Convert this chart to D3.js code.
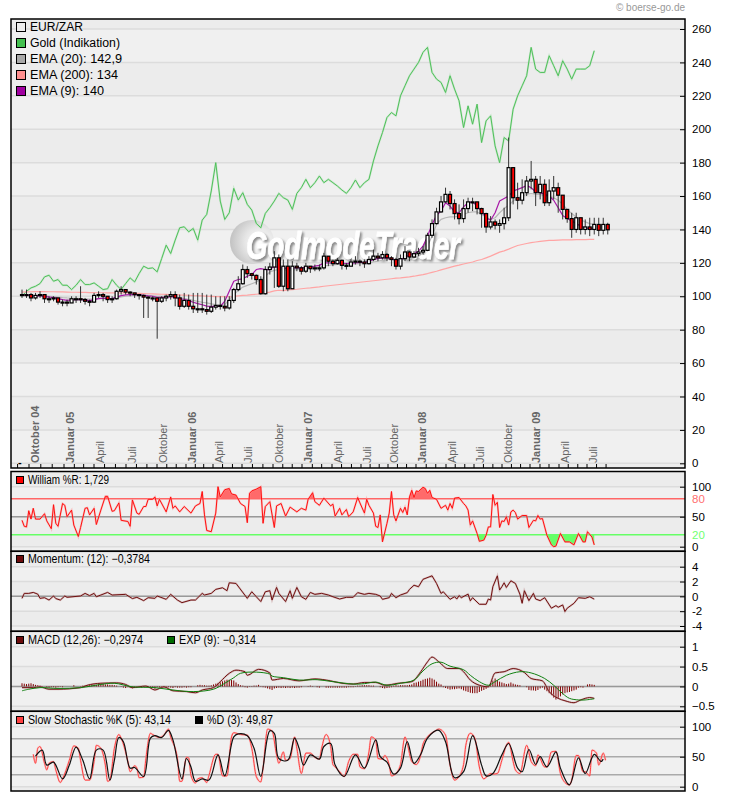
<!DOCTYPE html>
<html>
<head>
<meta charset="utf-8">
<script src="https://cdnjs.cloudflare.com/ajax/libs/d3/7.8.5/d3.min.js"></script>
<style>
  html, body { margin: 0; padding: 0; background: #fff; }
  svg { display: block; font-family: "Liberation Sans", Arial, sans-serif; }
</style>
</head>
<body>
<svg id="chart" width="730" height="801"></svg>
<script>
// --- data ---
// main panel series are sampled every second week, first value = week 0
const candleClose = [101,101,99,100.5,101,98.5,98.5,99,96.5,96.5,96,98.5,98.5,98,97,96.5,100.5,101,100,98,98.5,103,104,102.5,102,101,100.5,99.5,99,99,97,99,100,101,99,94,97.5,94,92.5,92.5,92,91,93.5,94.5,94,93,97.5,104,107.5,116,113.5,112.5,110,101.5,116,117.5,123,106,118,104.5,118,117,115,118,116.5,117,117,124,121,119.5,121.5,118.5,118,120.5,121,120.5,119.5,122,124,123,125,123,122,118,122.5,126.5,123.5,125.5,126.5,127.5,136.5,143.5,150.5,156.5,161,155.5,149.5,146.5,152.5,156.5,156.5,152.5,149.5,141.5,144.5,142.5,143.5,147,177,159,157.5,162,169,170,162,167,156,163,165,160.5,152,146.5,140,147,140,141.5,140,143,139.5,143,139.8];
const candleHigh = [104,104,102,102,103,101,100,100,99,98,98,100,100,106,99,98,102,103,102,100,100,104,106,104,103,102,101,101,100,100,99,100,101,103,103,101,102,101,102,102,102,101,101,100,100,100,100,105,112,119,118,114,113,112,118,120,127,125,122,122,121,120,118,120,118,119,119,126,124,122,123,122,120,122,124,122,122,124,128,126,127,126,124,123,125,130,127,127,129,130,138,146,153,160,165,163,158,155,158,159,159,156,153,150,148,146,146,153,195,177,168,170,172,181,172,172,170,170,172,168,157,150,150,150,146,146,147,147,147,147,144];
const candleLow = [99,99,97,98,99,96,96,97,95,94,94,96,96,96,95,94,96,99,97,96,96,98,101,101,100,99,98,87,87,97,74.6,96,97,98,94,92,93,92,90,90,90,89,90,92,92,91,92,96,103,107,111,110,107,101,101,113,105,105,103,103,116,115,113,114,114,115,115,116,118,118,119,116,116,118,119,118,117,119,121,121,122,121,118,116,116,121,121,123,124,125,127,135,143,150,156,152,146,143,144,150,151,149,141,138,140,140,138,140,145,155,152,155,160,164,154,158,154,154,158,150,146,144,135,138,137,137,136,137,136,137,137];
const goldValues = [100,103,105,106,107.6,111.6,112.6,109,110,106.6,106.6,104,106.6,110,107,107,108,106,104,104.5,110,106.6,104,107.6,111,108.6,113.6,118,116.6,117,114.6,122.6,130.6,125.6,133.6,141,141.6,138.6,140.6,133.6,145.6,149,163,180,157,146,150,164.6,157.6,162,155,151.6,143.6,141,149.6,153,157,161.6,159,157.6,152,161.6,165,170,165,168,172,168,170,168,166,163.6,161.6,165,169.6,165,168,170,181,190,198,207,210,208,220,226,232,236,240,246,249,234,230,228,222,232,224,217,201,214,203,215,192,205,208,190,180,195,193,212,220,226,232,249,236,234,234,244,238,232,241,236,230,236,236,236,238,247];
const ema20Values = [100.5,100.5,100.4,100.4,100.4,100.2,100,99.8,99.5,99.2,99,98.9,98.8,98.7,98.5,98.3,98.4,98.6,98.7,98.6,98.6,99,99.6,100,100.3,100.5,100.6,100.6,100.5,100.3,100,99.9,99.8,99.8,99.7,99.2,98.8,98,97.5,96.9,96.4,96,95.4,95,94.8,95,98,101,103.5,105.5,106.5,107.5,108.5,110,112,114.5,115.5,116,116,115.5,115.8,116,116.3,116.5,116.8,117,117.5,118,118.5,118.7,119,119,119,119.2,119.4,119.5,119.6,120,120.5,121,121.5,122,122,121.7,121.7,122,122.5,123,124,126,130,136,143,146,147,147.5,147.5,148,149,150,150.5,150.5,149,147.5,146,147,150,152.5,154.5,157,159,160,161,161.5,161,161,160,160,159,157.5,155,152,149.5,147.5,146,144.5,143.5,143];
const ema200Values = [102.5,102.6,102.7,102.8,102.8,102.8,102.7,102.7,102.6,102.6,102.5,102.4,102.4,102.3,102.3,102.2,102.2,102.1,102.1,102,102,102,102,102,102,101.8,101.7,101.6,101.5,101.4,101.3,101.2,101.1,101,101,100.8,100.7,100.6,100.4,100.3,100.2,100,99.9,99.8,99.8,99.7,99.8,99.9,100.2,100.5,100.7,101,101.2,101.5,102,102.5,103.2,103.6,103.4,103.8,104,104.2,104.5,104.8,105,105.3,105.6,106,106.3,106.6,106.9,107.2,107.5,107.8,108.1,108.4,108.7,109,109.3,109.6,109.9,110.2,110.5,110.8,111,111.3,111.6,112,112.5,113,113.6,114.3,115,115.8,116.5,117.3,118,118.6,119.3,119.9,120.5,121.4,122,123,124,125.2,126.4,127.2,128.2,129.3,130.4,131,131.6,132.1,132.5,132.9,133.2,133.4,133.5,133.6,133.7,133.8,133.8,133.9,133.9,133.9,134,134];
const ema9Values = [100.8,100.8,100.3,100.2,100.4,99.9,99.5,99.3,98.6,98,97.5,97.8,98,98,97.8,97.4,98,98.6,98.9,98.7,98.6,99.5,100.4,100.8,101,101,100.9,100.6,100.2,100,99.4,99.3,99.4,99.7,99.5,98.4,98.2,97.4,96.4,95.6,94.9,94.1,94,94,94,97,103,109,110,110.5,112,113,116,116.5,116,116,118,117,117,116.5,117,117,117,117.3,117.3,118,118.5,120,120,119.8,120,119.8,119.6,119.8,120,120.2,120.2,121,122,122.5,123,123,122.5,121.5,122,123,125,125.5,127,130,136,143,148.5,151,156,154,150.5,150,153.5,156,156.5,154,151,147,145.5,150,157,158.5,160,163,164,165,166.4,165,162.4,162,161,160,157.5,153,148.4,146.5,145,143.5,142,141,140.5,140];

// indicator panels: [week, value]
const williamPoints = [[0,44],[1,34],[2,33],[3,60],[4,46],[5,64],[6,46],[8,46],[10,55],[11,43],[13,30],[14,70],[15,39],[16,34],[18,72],[19,69],[20,50],[22,61],[23,36],[25,17],[26,32],[28,64],[29,65],[30,53],[32,64],[33,37],[35,61],[37,84],[38,84],[40,59],[41,60],[43,73],[44,44],[47,42],[48,34],[49,78],[51,56],[52,54],[54,67],[55,67],[56,79],[58,79],[59,83],[60,68],[61,79],[64,58],[66,83],[67,64],[68,68],[70,58],[72,67],[75,56],[77,68],[79,72],[80,92],[81,53],[82,27],[84,25],[86,56],[87,100],[88,83],[90,95],[92,97],[93,88],[95,86],[97,72],[99,67],[100,40],[101,89],[102,93],[104,96],[106,100],[107,39],[108,67],[110,75],[112,32],[113,68],[115,72],[117,51],[119,66],[122,58],[124,64],[126,61],[127,79],[129,90],[130,75],[132,69],[134,81],[137,68],[138,71],[139,51],[141,64],[142,53],[144,62],[145,50],[147,58],[149,82],[150,73],[152,56],[153,79],[154,69],[156,56],[157,34],[158,32],[159,53],[160,8],[162,39],[163,56],[164,92],[165,53],[166,43],[168,64],[169,57],[170,66],[171,53],[172,83],[173,94],[174,82],[175,93],[176,92],[178,99],[179,97],[180,89],[181,94],[182,82],[184,79],[186,64],[188,69],[189,61],[190,72],[191,64],[192,81],[194,82],[196,72],[197,68],[198,61],[199,36],[200,43],[202,22],[203,9],[205,11],[206,19],[207,33],[208,33],[209,87],[210,69],[211,74],[212,32],[213,43],[214,42],[215,50],[216,36],[217,58],[218,61],[219,57],[220,46],[222,52],[224,52],[225,32],[227,44],[228,43],[229,52],[230,46],[231,47],[233,19],[235,3],[236,0],[237,1],[239,22],[241,8],[243,8],[245,3],[247,22],[249,8],[250,8],[251,25],[253,16],[254,3]];
const momentumPoints = [[0,-0.27],[1,0.4],[3,0.4],[5,0.53],[7,0.3],[8,-0.27],[10,-0.18],[12,-0.5],[14,0.05],[15,-0.3],[17,-0.5],[19,0.05],[20,-0.13],[26,0.05],[28,0.4],[30,0.1],[32,0.4],[33,-0.05],[35,0.18],[38,0.53],[40,0.18],[46,0.27],[49,-0.3],[51,-0.13],[54,-0.58],[56,-0.18],[59,-0.27],[60,0.05],[64,-0.4],[66,0.27],[69,-0.5],[71,-0.85],[75,-0.5],[77,-0.5],[80,0.4],[81,0.18],[84,0.4],[86,0.94],[89,1.16],[91,0.76],[92,1.83],[95,1.74],[100,-0.27],[102,0.62],[104,-0.05],[106,-0.7],[108,0.62],[110,0.76],[111,-0.5],[113,1.2],[114,0.4],[117,-0.7],[119,0.76],[120,-0.27],[122,1.2],[124,-0.05],[126,-0.4],[128,0.53],[130,0.27],[133,0.4],[136,0.18],[138,-0.05],[141,-0.36],[144,-0.13],[147,-0.13],[149,0.5],[152,0.27],[154,0.4],[157,0.27],[159,0.05],[160,-0.4],[163,-0.18],[164,0.4],[166,-0.18],[168,0.18],[171,0.5],[172,0.94],[174,1.5],[176,1.3],[178,2.3],[182,2.77],[184,1.74],[186,0.4],[187,0.62],[190,-0.4],[192,-0.05],[193,-0.36],[194,0.1],[195,-0.18],[198,0.3],[199,-0.6],[200,-0.18],[203,-1.07],[206,-1.07],[207,-0.36],[208,-0.5],[209,1.3],[211,2.77],[212,0.85],[213,1.3],[214,1.83],[215,1.2],[217,2.1],[219,1.74],[221,0.3],[222,-0.94],[223,0.76],[225,-0.58],[227,0.4],[228,-0.36],[230,-0.58],[232,-0.18],[235,-1.6],[237,-1.25],[238,-1.47],[240,-1.16],[241,-2.05],[242,-1.6],[245,-0.94],[247,-0.18],[250,-0.27],[252,-0.05],[254,-0.38]];
const macdPoints = [[0,-0.03],[5,-0.03],[8,-0.01],[12,-0.07],[16,-0.07],[26,-0.03],[29,0.03],[35,0.08],[42,0.09],[46,0.05],[49,-0.03],[55,0.01],[59,-0.09],[63,-0.01],[67,-0.11],[73,-0.13],[77,-0.16],[80,-0.09],[85,-0.03],[88,0.12],[92,0.33],[95,0.41],[99,0.37],[100,0.28],[105,0.43],[110,0.34],[111,0.16],[116,0.2],[123,0.14],[130,0.19],[137,0.14],[142,0.08],[147,0.06],[152,0.1],[157,0.1],[161,0.03],[167,0.08],[173,0.12],[177,0.37],[180,0.62],[182,0.74],[185,0.62],[189,0.45],[194,0.45],[196,0.37],[199,0.16],[203,0.03],[207,-0.01],[210,0.34],[214,0.37],[218,0.45],[223,0.35],[226,0.2],[231,0.14],[234,-0.13],[238,-0.3],[241,-0.36],[245,-0.41],[248,-0.34],[252,-0.28],[254,-0.3]];
const expPoints = [[0,-0.11],[3,-0.07],[8,-0.03],[16,-0.05],[26,-0.03],[35,0.05],[41,0.08],[49,-0.01],[59,-0.03],[67,-0.09],[76,-0.13],[85,-0.07],[90,0.08],[94,0.22],[97,0.33],[104,0.36],[110,0.31],[111,0.26],[116,0.22],[123,0.16],[131,0.17],[138,0.12],[147,0.06],[152,0.07],[157,0.11],[162,0.03],[168,0.08],[174,0.16],[178,0.39],[182,0.57],[186,0.61],[190,0.51],[196,0.42],[199,0.28],[203,0.12],[207,0.03],[210,0.12],[215,0.28],[221,0.37],[226,0.34],[232,0.2],[236,0.03],[240,-0.18],[243,-0.3],[247,-0.34],[250,-0.34],[254,-0.31]];
// one bar per week
const macdHistogram = [0.08,0.07,0.06,0.07,0.08,0.06,0.04,0.03,0.02,0.01,0,
  -0.02,-0.03,-0.02,-0.02,-0.03,-0.02,-0.01,-0.02,0,0,0,0,0.03,0,0,
  0.01,0.02,0.03,0.03,0.04,0.05,0.05,0.04,0.06,0.07,0.06,0.05,0.05,0.04,0.04,
  0.03,0.02,0,-0.01,-0.03,-0.04,-0.02,-0.04,-0.05,-0.03,-0.04,-0.02,-0.03,-0.02,
  0,-0.02,-0.03,-0.03,-0.06,-0.02,-0.03,-0.02,-0.02,-0.03,-0.02,-0.03,-0.04,-0.02,-0.03,-0.03,-0.03,-0.02,-0.03,-0.02,-0.02,
  0,0,0.03,0.04,0.03,0.03,0.02,0.02,0.03,0.05,0.07,0.09,0.11,0.13,0.15,
  0.17,0.17,0.16,0.15,0.1,0.06,0.03,0.02,-0.02,-0.03,-0.01,0.01,0.02,0.02,0.04,0.01,-0.02,-0.03,-0.05,-0.07,
  -0.09,-0.05,-0.04,-0.03,-0.04,-0.03,-0.04,-0.03,-0.04,-0.03,-0.04,-0.03,-0.03,-0.02,0,
  0,0.01,0.02,0.01,0,-0.02,-0.03,0,0,-0.03,-0.03,-0.03,-0.03,-0.03,
  -0.03,-0.03,-0.03,-0.03,-0.03,-0.02,-0.02,-0.02,-0.01,0.02,0.02,0.03,0.03,
  0.03,0.03,0.02,0.02,0,0,-0.02,-0.04,-0.05,-0.04,-0.03,-0.02,0.02,0.03,0.02,0.03,0.03,0.03,0.03,0.04,0.05,
  0.09,0.1,0.12,0.14,0.17,0.19,0.2,0.22,0.2,0.17,0.12,0.07,0.05,
  -0.02,-0.04,-0.06,-0.08,-0.07,-0.07,-0.06,-0.05,-0.07,-0.1,-0.12,-0.14,-0.16,-0.17,-0.17,-0.17,-0.14,-0.11,-0.09,-0.06,
  0.02,0.08,0.15,0.2,0.16,0.12,0.1,0.08,0.06,0.07,0.1,0.07,0.05,0.04,0.03,
  0,0,-0.02,-0.09,-0.1,-0.1,-0.11,-0.09,
  -0.05,-0.03,-0.08,-0.12,-0.17,-0.22,-0.28,-0.33,-0.3,-0.25,-0.2,-0.17,-0.15,-0.14,-0.12,-0.1,-0.08,
  -0.03,-0.02,-0.03,0,0.05,0.06,0.05,0.04];
const stochKPoints = [[5,54],[6,39],[7,64],[8,67],[10,39],[11,28],[12,39],[14,42],[15,28],[17,7],[18,13],[21,44],[23,68],[25,64],[26,44],[28,11],[30,11],[32,42],[33,69],[35,64],[37,36],[38,9],[39,11],[41,64],[43,87],[44,81],[47,42],[48,25],[50,35],[51,31],[52,15],[54,16],[55,47],[57,89],[58,87],[61,82],[63,86],[65,96],[66,83],[69,47],[70,9],[71,9],[73,49],[74,48],[75,19],[77,6],[78,13],[80,15],[82,7],[83,19],[86,54],[87,54],[89,18],[91,18],[93,83],[94,90],[97,87],[100,86],[102,64],[104,17],[106,8],[107,31],[109,96],[111,93],[113,53],[114,39],[116,58],[117,44],[119,47],[121,83],[122,64],[124,22],[126,56],[128,56],[130,49],[132,46],[133,64],[135,87],[137,67],[138,37],[139,33],[141,25],[143,17],[145,42],[147,54],[149,54],[150,33],[152,30],[154,58],[155,83],[157,78],[158,47],[160,46],[161,52],[163,36],[164,18],[166,22],[168,37],[170,83],[171,72],[173,42],[175,37],[177,53],[178,71],[180,83],[183,92],[185,96],[188,86],[190,36],[192,11],[194,17],[196,37],[197,69],[199,89],[201,81],[203,33],[205,13],[208,22],[209,21],[211,22],[213,44],[215,69],[216,74],[218,42],[219,28],[221,22],[224,69],[226,42],[228,35],[229,53],[232,33],[233,33],[235,58],[237,59],[239,22],[241,7],[243,3],[244,11],[246,52],[247,52],[249,25],[250,25],[252,18],[253,61],[255,56],[256,36],[258,56],[259,44]];
const stochDPoints = [[6,51],[9,61],[11,36],[14,41],[18,13],[21,36],[24,66],[27,44],[30,13],[33,61],[36,61],[39,11],[41,44],[43,82],[45,75],[48,31],[50,32],[54,17],[57,81],[59,85],[62,82],[65,94],[67,78],[71,13],[73,47],[75,33],[77,9],[80,13],[83,11],[87,53],[90,18],[94,83],[96,88],[100,85],[103,64],[106,17],[110,93],[112,89],[114,47],[118,44],[121,81],[123,64],[125,36],[128,53],[132,46],[134,67],[137,72],[139,36],[143,17],[148,53],[152,31],[157,78],[159,50],[162,41],[165,21],[168,31],[171,75],[174,39],[177,54],[180,81],[185,94],[188,75],[192,15],[196,25],[200,85],[204,36],[206,18],[209,22],[213,53],[216,72],[220,31],[222,25],[225,62],[228,37],[230,50],[233,33],[237,58],[239,31],[243,3],[247,48],[250,22],[254,54],[257,42],[258,46]];

// labels
const yearTicks = ["Oktober 04", "Januar 05", "Januar 06", "Januar 07", "Januar 08", "Januar 09"];
const mainLegend = ["EUR/ZAR", "Gold (Indikation)", "EMA (20): 142,9", "EMA (200): 134", "EMA (9): 140"];
const mainLegendColors = ["#eeeeee", "#44c050", "#a8a8a8", "#ff9090", "#a000a0"];
const monthNames = { 0: "Januar", 3: "April", 6: "Juli", 9: "Oktober" };

// --- layout ---
const svg = d3.select("#chart");
const plotLeft = 11, plotRight = 685;

// 週番号 -> x
const weekX = d3.scaleLinear().domain([0, 259]).range([22, 605.5]);

// the date axis is not uniform in the picture, so the time scale is piecewise by quarter
const quarterStarts = d3.timeMonth.range(new Date(2004, 9, 1), new Date(2009, 6, 2), 3);
const x = d3.scaleTime()
    .domain(quarterStarts)
    .range([29, 64, 94, 126, 157, 186, 213, 242, 273, 302, 332, 361, 388, 416, 446, 474, 502, 530, 559, 587]);

// 背景: 帯とグリッド
function drawPanel(top, bottom, y, gridValues) {
    const g = svg.append("g");
    const edges = [top, ...gridValues.map(v => y(v)).sort((a, b) => a - b), bottom];
    d3.pairs(edges).forEach((p, i) => {
        g.append("rect")
            .attr("x", plotLeft).attr("y", p[0])
            .attr("width", plotRight - plotLeft).attr("height", p[1] - p[0])
            .attr("fill", i % 2 ? "#f0f0f0" : "#ececec");
    });
    g.selectAll("line.grid").data(gridValues).enter().append("line")
        .attr("class", "grid")
        .attr("x1", plotLeft).attr("x2", plotRight)
        .attr("y1", d => y(d)).attr("y2", d => y(d))
        .attr("stroke", "#dcdcdc").attr("stroke-width", 1.5);
    return g;
}

function drawFrame(top, bottom, y, axisValues, format) {
    svg.append("rect")
        .attr("x", plotLeft).attr("y", top)
        .attr("width", plotRight - plotLeft).attr("height", bottom - top)
        .attr("fill", "none").attr("stroke", "#000").attr("stroke-width", 1.5);
    const axis = d3.axisRight(y)
        .tickValues(axisValues)
        .tickSizeInner(-5).tickSizeOuter(0).tickPadding(7)
        .tickFormat(format || (d => d));
    const a = svg.append("g")
        .attr("transform", `translate(${plotRight},0)`)
        .call(axis);
    a.select(".domain").remove();
    a.selectAll("text").attr("font-size", 11.5).attr("font-family", "Liberation Sans").attr("fill", "#000");
    a.selectAll("line").attr("stroke", "#000");
    return a;
}

function refLine(y, value, color) {
    svg.append("line")
        .attr("x1", plotLeft).attr("x2", plotRight)
        .attr("y1", y(value)).attr("y2", y(value))
        .attr("stroke", color).attr("stroke-width", 1.5);
}

function plotLine(points, y, color, width, halo, curve) {
    const line = d3.line().x(d => weekX(d[0])).y(d => y(d[1])).curve(curve || d3.curveLinear);
    if (halo) {
        svg.append("path").datum(points)
            .attr("d", line).attr("fill", "none")
            .attr("stroke", halo).attr("stroke-width", width + 1).attr("stroke-opacity", 0.5);
    }
    return svg.append("path").datum(points)
        .attr("d", line).attr("fill", "none")
        .attr("stroke", color).attr("stroke-width", width)
        .attr("stroke-linejoin", "round");
}

function legendItem(xPos, yPos, size, color, label, labelWidth) {
    svg.append("rect")
        .attr("x", xPos + 0.5).attr("y", yPos + 0.5)
        .attr("width", size).attr("height", size)
        .attr("fill", color).attr("stroke", "#000");
    svg.append("text")
        .attr("x", xPos + size + 5).attr("y", yPos + size + (size > 8 ? 0 : 1))
        .attr("font-size", 12).attr("fill", "#000")
        .attr("textLength", labelWidth).attr("lengthAdjust", "spacingAndGlyphs")
        .text(label);
}

const biweekly = values => values.map((v, i) => [i * 2, v]);

// --- main panel ---
const yMain = d3.scaleLinear().domain([0, 260]).range([463.3, 29]);
const mainTicks = d3.range(0, 261, 20);
drawPanel(19, 468, yMain, mainTicks);

// 透かしロゴ
const defs = svg.append("defs");
const sphere = defs.append("radialGradient").attr("id", "sphere")
    .attr("cx", "0.68").attr("cy", "0.5").attr("r", "0.68");
sphere.append("stop").attr("offset", "0").attr("stop-color", "#ffffff");
sphere.append("stop").attr("offset", "0.5").attr("stop-color", "#e6e6e6");
sphere.append("stop").attr("offset", "1").attr("stop-color", "#c2c2c2");
defs.append("filter").attr("id", "soft")
    .attr("x", "-10%").attr("y", "-20%").attr("width", "120%").attr("height", "140%")
    .append("feDropShadow")
    .attr("dx", 2).attr("dy", 2).attr("stdDeviation", 1.2)
    .attr("flood-color", "#8c8c8c");
svg.append("circle").attr("cx", 252).attr("cy", 242).attr("r", 22).attr("fill", "url(#sphere)");
svg.append("text")
    .attr("x", 246).attr("y", 259)
    .attr("font-size", 39).attr("font-weight", "bold").attr("font-style", "italic")
    .attr("fill", "#fff").attr("stroke", "#fff").attr("stroke-width", 0.8)
    .attr("filter", "url(#soft)")
    .attr("textLength", 214).attr("lengthAdjust", "spacingAndGlyphs")
    .text("GodmodeTrader");

// 月目盛りとラベル
const months = d3.timeMonth.range(new Date(2004, 8, 1), new Date(2009, 8, 2));
svg.append("g").selectAll("line").data(months).enter().append("line")
    .attr("x1", d => x(d)).attr("x2", d => x(d))
    .attr("y1", 464).attr("y2", 468)
    .attr("stroke", "#000");

const labelMonths = months.filter(d => monthNames[d.getMonth()] !== undefined);
svg.append("g").selectAll("text").data(labelMonths).enter().append("text")
    .attr("transform", d => `translate(${x(d) + 10},463) rotate(-90)`)
    .attr("font-size", 11)
    .attr("fill", "#666")
    .attr("font-weight", d => yearTicks.includes(monthLabel(d)) ? "bold" : "normal")
    .text(monthLabel);

function monthLabel(d) {
    const name = monthNames[d.getMonth()];
    const year = d3.timeFormat("%y")(d);
    const withYear = `${name} ${year}`;
    return yearTicks.includes(withYear) ? withYear : name;
}

svg.append("text").attr("x", 18).attr("y", 466).attr("font-size", 11).attr("font-weight", "bold").text("-");

plotLine(biweekly(goldValues), yMain, "#4fc05a", 1, "#a8e0ae");
plotLine(biweekly(ema200Values), yMain, "#ffa4a4", 1.2);
plotLine(biweekly(ema20Values), yMain, "#b8b8b8", 1.2);
plotLine(biweekly(ema9Values), yMain, "#a818a8", 1.2);

// ローソク足
const candles = candleClose.map((close, i) => ({
    week: i * 2,
    open: i ? candleClose[i - 1] : close,
    close: close,
    high: candleHigh[i],
    low: candleLow[i]
}));
const candleG = svg.append("g").selectAll("g").data(candles).enter().append("g");
candleG.append("line")
    .attr("x1", d => weekX(d.week)).attr("x2", d => weekX(d.week))
    .attr("y1", d => yMain(d.high)).attr("y2", d => yMain(d.low))
    .attr("stroke", "#333").attr("stroke-width", 1);
candleG.append("rect")
    .attr("x", d => weekX(d.week) - 1.5)
    .attr("y", d => yMain(Math.max(d.open, d.close)))
    .attr("width", 3)
    .attr("height", d => Math.max(1, Math.abs(yMain(d.open) - yMain(d.close))))
    .attr("fill", d => d.close < d.open ? "#ff0000" : "#ffffff")
    .attr("stroke", "#000").attr("stroke-width", 1.2);

drawFrame(19, 468, yMain, mainTicks);
const mainLegendWidths = [53, 90, 92, 88, 74];
mainLegend.forEach((label, i) => legendItem(16, 22 + i * 16, 9, mainLegendColors[i], label, mainLegendWidths[i]));

svg.append("text")
    .attr("x", 685).attr("y", 11)
    .attr("text-anchor", "end").attr("font-size", 10).attr("fill", "#999")
    .text("© boerse-go.de");

// --- William %R ---
const yWill = d3.scaleLinear().domain([0, 100]).range([546.7, 486.7]);
drawPanel(471.5, 551.3, yWill, [0, 50, 100]);
refLine(yWill, 50, "#999");

defs.append("clipPath").attr("id", "clipHigh").append("rect")
    .attr("x", plotLeft).attr("y", 471.5).attr("width", plotRight - plotLeft).attr("height", yWill(80) - 471.5);
defs.append("clipPath").attr("id", "clipLow").append("rect")
    .attr("x", plotLeft).attr("y", yWill(20)).attr("width", plotRight - plotLeft).attr("height", 551.3 - yWill(20));
svg.append("path").datum(williamPoints)
    .attr("d", d3.area().x(d => weekX(d[0])).y0(yWill(80)).y1(d => yWill(d[1])))
    .attr("fill", "#ff6a6a").attr("clip-path", "url(#clipHigh)");
svg.append("path").datum(williamPoints)
    .attr("d", d3.area().x(d => weekX(d[0])).y0(yWill(20)).y1(d => yWill(d[1])))
    .attr("fill", "#66ff66").attr("clip-path", "url(#clipLow)");
refLine(yWill, 80, "#ff6666");
refLine(yWill, 20, "#66ff66");
plotLine(williamPoints, yWill, "#ff1010", 1, "#ff9090");
const willAxis = drawFrame(471.5, 551.3, yWill, [0, 20, 50, 80, 100]);
willAxis.selectAll("text").attr("fill", d => d === 80 ? "#ff7070" : d === 20 ? "#70ff70" : "#000");
willAxis.selectAll("line").attr("stroke", d => d === 80 || d === 20 ? "none" : "#000");
legendItem(16, 476, 7, "#ff0000", "William %R: 1,729", 81);

// --- Momentum ---
const yMom = d3.scaleLinear().domain([-4, 4]).range([626, 566.7]);
const momTicks = [-4, -2, 0, 2, 4];
drawPanel(551.3, 631.3, yMom, momTicks);
refLine(yMom, 0, "#999");
plotLine(momentumPoints, yMom, "#701010", 1, "#c09090");
drawFrame(551.3, 631.3, yMom, momTicks);
legendItem(16, 555, 7, "#6b0b0b", "Momentum: (12): −0,3784", 122);

// --- MACD ---
const yMacd = d3.scaleLinear().domain([-0.5, 1]).range([706.3, 646.7]);
const macdTicks = [-0.5, 0, 0.5, 1];
drawPanel(631.3, 711.3, yMacd, macdTicks);
refLine(yMacd, 0, "#999");
svg.append("g").selectAll("rect").data(macdHistogram).enter().append("rect")
    .attr("x", (d, i) => weekX(i) - 0.5)
    .attr("y", d => d > 0 ? yMacd(d) : yMacd(0))
    .attr("width", 1)
    .attr("height", d => Math.abs(yMacd(d) - yMacd(0)))
    .attr("fill", "#800000");
plotLine(macdPoints, yMacd, "#701010", 1, "#c09090", d3.curveMonotoneX);
plotLine(expPoints, yMacd, "#108010", 1, null, d3.curveCatmullRom);
drawFrame(631.3, 711.3, yMacd, macdTicks, d => d3.format("")(d));
legendItem(16, 636, 7, "#6b0b0b", "MACD (12,26): −0,2974", 115);
legendItem(167, 636, 7, "#006b00", "EXP (9): −0,314", 77);

// --- Slow Stochastic ---
const yStoch = d3.scaleLinear().domain([0, 100]).range([786.7, 726.7]);
drawPanel(711.3, 791, yStoch, [0, 100]);
[20, 50, 80].forEach(v => refLine(yStoch, v, "#aaaaaa"));
plotLine(stochKPoints, yStoch, "#ff4040", 1, "#ffa0a0", d3.curveMonotoneX);
plotLine(stochDPoints, yStoch, "#111", 1.2, null, d3.curveCatmullRom);
drawFrame(711.3, 791, yStoch, [0, 50, 100]);
legendItem(16, 716, 7, "#ff4040", "Slow Stochastic %K (5): 43,14", 143);
legendItem(195, 716, 7, "#000000", "%D (3): 49,87", 66);
</script>
</body>
</html>
